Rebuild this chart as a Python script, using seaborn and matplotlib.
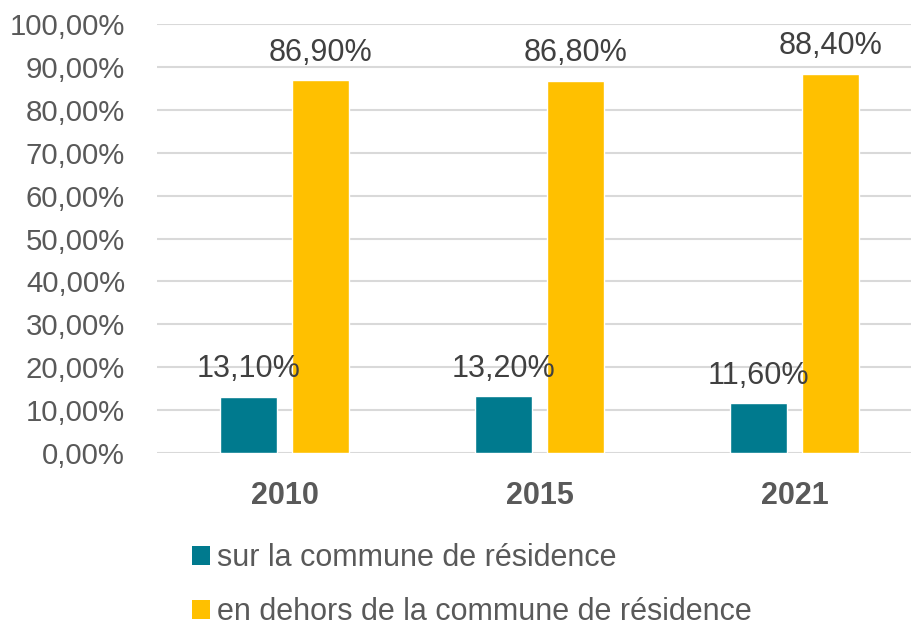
import pandas as pd
import matplotlib.pyplot as plt
import seaborn as sns
from matplotlib.patches import Patch
from matplotlib.ticker import FuncFormatter

# values (in %)
years = ["2010", "2015", "2021"]
sur_commune = [13.10, 13.20, 11.60]
hors_commune = [86.90, 86.80, 88.40]
series_names = ["sur la commune de résidence", "en dehors de la commune de résidence"]
colors = ["#007A8E", "#FFC000"]

df = pd.DataFrame({
    "year": years * 2,
    "value": sur_commune + hors_commune,
    "serie": [series_names[0]] * 3 + [series_names[1]] * 3,
})

sns.set_theme(style="white")
plt.rcParams["font.family"] = ["Liberation Sans", "DejaVu Sans"]
grey = "#595959"

fig = plt.figure(figsize=(9.11, 6.26), dpi=100)
ax = fig.add_axes([157 / 911, (626 - 453) / 626, (911 - 157) / 911, (453 - 24) / 626])

sns.barplot(data=df, x="year", y="value", hue="serie", palette=colors,
            width=0.564, gap=0.207, ax=ax, legend=False, saturation=1)

ax.set_ylim(0, 100)
ax.set_xlim(-0.5, -0.5 + 754 / 255)
ax.set_yticks(range(0, 101, 10))
ax.yaxis.set_major_formatter(FuncFormatter(lambda v, p: f"{v:.2f}".replace(".", ",") + "%"))
ax.grid(axis="y", color="#d9d9d9", linewidth=1.5)
ax.set_axisbelow(True)
for s in ax.spines.values():
    s.set_visible(False)
ax.tick_params(axis="y", labelsize=21.2, colors=grey, length=0, pad=23)
ax.tick_params(axis="x", labelsize=22, colors=grey, length=0, pad=20)
for lab in ax.get_xticklabels():
    lab.set_fontweight("bold")
ax.set_xlabel("")
ax.set_ylabel("")

for cont in ax.containers:
    ax.bar_label(cont, labels=[f"{b.get_height():.2f}".replace(".", ",") + "%" for b in cont],
                 padding=9, fontsize=22, color="#404040")

handles = [Patch(facecolor=c, edgecolor="none") for c in colors]
fig.legend(handles, series_names, loc="upper left", bbox_to_anchor=(164 / 911, 1 - 516 / 626),
           frameon=False, fontsize=22, labelcolor=grey, handlelength=0.6, handleheight=0.6,
           handletextpad=0.25, labelspacing=0.78)

plt.savefig("out.png", dpi=100)
